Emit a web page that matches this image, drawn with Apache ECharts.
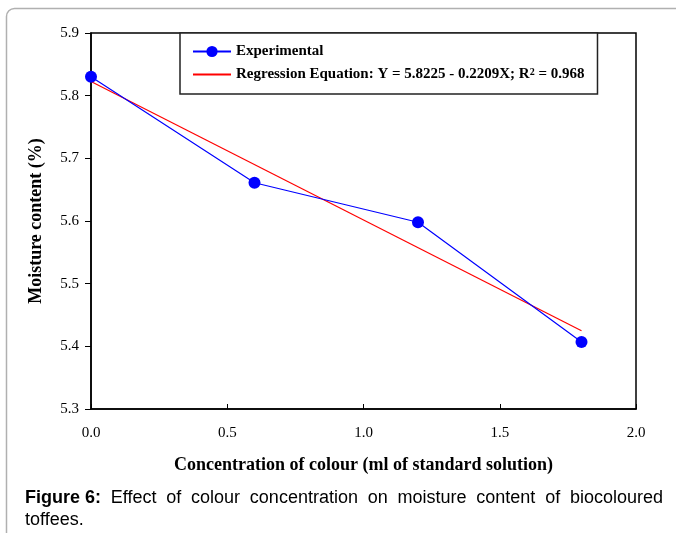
<!DOCTYPE html>
<html>
<head>
<meta charset="utf-8">
<script src="https://cdn.jsdelivr.net/npm/echarts@6/dist/echarts.min.js"></script>
<style>
  html, body { margin: 0; padding: 0; background: #fff; }
  #chart { width: 676px; height: 533px; }
</style>
</head>
<body>
<div id="chart"></div>
<script>
// Colour concentration (ml of standard solution) vs moisture content (%)
const concentration = [0.0, 0.6, 1.2, 1.8];
const moisture = [5.830, 5.661, 5.598, 5.407];

// Fitted line: Y = 5.8225 - 0.2209X
const fitIntercept = 5.8225;
const fitSlope = -0.2209;
const fitX = [0.0, 1.8];

const xTicks = ['0.0', '0.5', '1.0', '1.5', '2.0'];
const yTicks = ['5.3', '5.4', '5.5', '5.6', '5.7', '5.8', '5.9'];

const expData = concentration.map((x, i) => [x, moisture[i]]);
const fitData = fitX.map(x => [x, fitIntercept + fitSlope * x]);

const serif = '"Liberation Serif", "Times New Roman", serif';
const sans = '"Liberation Sans", Arial, sans-serif';

// Caption: first line is justified across the full width
const captionLead = 'Figure 6:';
const captionLine1 = ['Effect', 'of', 'colour', 'concentration', 'on', 'moisture', 'content', 'of', 'biocoloured'];
const captionLine2 = 'toffees.';
const capSize = 18;
const capLeft = 25, capRight = 663;

const ctx = document.createElement('canvas').getContext('2d');
ctx.font = 'bold ' + capSize + 'px ' + sans;
let natural = ctx.measureText(captionLead).width;
ctx.font = capSize + 'px ' + sans;
captionLine1.forEach(w => { natural += ctx.measureText(w).width; });
const gap = (capRight - capLeft - natural) / captionLine1.length;
const line1Rich = '{b|' + captionLead + '}' + captionLine1.map(w => '{g|}{t|' + w + '}').join('');

const chart = echarts.init(document.getElementById('chart'), null, { renderer: 'canvas' });

chart.setOption({
  animation: false,
  backgroundColor: '#fff',
  grid: { left: 91, right: 40, top: 33, bottom: 124, show: true, borderColor: '#000', borderWidth: 1.5 },
  legend: {
    left: 180, top: 33,
    orient: 'vertical',
    backgroundColor: '#fff',
    borderColor: '#222', borderWidth: 1.5, borderRadius: 0,
    padding: [11, 13, 12, 12],
    itemGap: 8, itemWidth: 38, itemHeight: 14,
    data: [
      'Experimental',
      { name: 'Regression', itemStyle: { opacity: 0 } }
    ],
    textStyle: {
      fontFamily: serif, fontSize: 15, fontWeight: 'bold', color: '#000',
      rich: {
        a: { fontFamily: serif, fontSize: 15, fontWeight: 'bold', color: '#000' },
        s: { fontFamily: serif, fontSize: 10, fontWeight: 'bold', color: '#000', verticalAlign: 'top', lineHeight: 12 }
      }
    },
    formatter: function (name) {
      if (name === 'Regression') {
        return '{a|Regression Equation: Y = 5.8225 - 0.2209X; R}{s|2}{a| = 0.968}';
      }
      return '{a|' + name + '}';
    }
  },
  xAxis: {
    type: 'value', min: 0, max: 2, interval: 0.5,
    axisLine: { onZero: false, lineStyle: { color: '#000', width: 1.5 } },
    axisTick: { inside: true, length: 5, lineStyle: { color: '#000' } },
    splitLine: { show: false },
    axisLabel: {
      margin: 17, fontFamily: serif, fontSize: 15, color: '#000',
      formatter: (v) => xTicks[Math.round(v / 0.5)]
    },
    name: 'Concentration of colour (ml of standard solution)',
    nameLocation: 'middle', nameGap: 47,
    nameTextStyle: { fontFamily: serif, fontSize: 18, fontWeight: 'bold', color: '#000' }
  },
  yAxis: {
    type: 'value', min: 5.3, max: 5.9, interval: 0.1,
    axisLine: { onZero: false, lineStyle: { color: '#000', width: 1.5 } },
    axisTick: { inside: false, length: 6, lineStyle: { color: '#000' } },
    splitLine: { show: false },
    axisLabel: {
      margin: 12, fontFamily: serif, fontSize: 15, color: '#000',
      formatter: (v) => yTicks[Math.round((v - 5.3) / 0.1)]
    },
    name: 'Moisture content (%)',
    nameLocation: 'middle', nameGap: 46, nameRotate: 90,
    nameTextStyle: { fontFamily: serif, fontSize: 18, fontWeight: 'bold', color: '#000' }
  },
  series: [
    {
      name: 'Experimental', type: 'line', data: expData,
      symbol: 'circle', symbolSize: 12,
      lineStyle: { color: '#0000ff', width: 1.2 },
      itemStyle: { color: '#0000ff' },
      z: 3
    },
    {
      name: 'Regression', type: 'line', data: fitData,
      symbol: 'none',
      lineStyle: { color: '#ff0000', width: 1.2 },
      itemStyle: { color: '#ff0000' },
      z: 2
    }
  ],
  graphic: [
    {
      type: 'rect', silent: true, z: -1,
      shape: { x: 6.5, y: 8.5, width: 700, height: 560, r: 8 },
      style: { fill: 'none', stroke: '#b0b0b0', lineWidth: 1.5 }
    },
    {
      type: 'text', left: capLeft, top: 489,
      style: {
        text: line1Rich,
        fill: '#000', font: capSize + 'px ' + sans,
        rich: {
          b: { fontFamily: sans, fontSize: capSize, fontWeight: 'bold', fill: '#000' },
          t: { fontFamily: sans, fontSize: capSize, fill: '#000' },
          g: { width: gap }
        }
      }
    },
    {
      type: 'text', left: capLeft, top: 511,
      style: { text: captionLine2, fill: '#000', font: capSize + 'px ' + sans }
    }
  ]
});
</script>
</body>
</html>
